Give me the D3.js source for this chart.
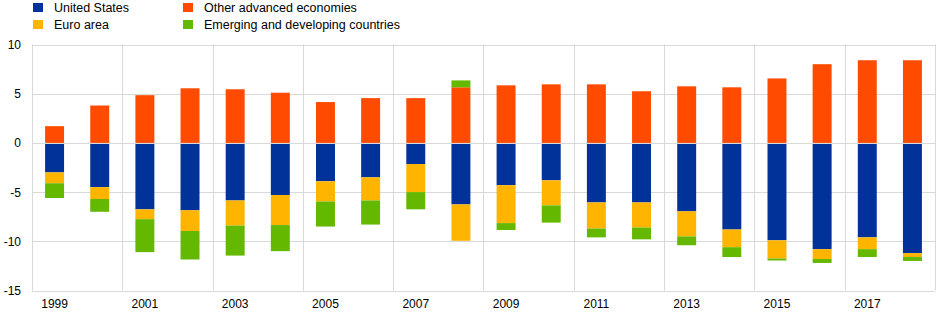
<!DOCTYPE html>
<html>
<head>
<meta charset="utf-8">
<script src="https://cdn.jsdelivr.net/npm/d3@7"></script>
<style>
  body { margin: 0; background: #fff; }
  text { font-family: "Liberation Sans", Arial, sans-serif; fill: #000; }
</style>
</head>
<body>
<svg id="chart" width="945" height="317"></svg>
<script>
const years = [1999, 2000, 2001, 2002, 2003, 2004, 2005, 2006, 2007, 2008,
               2009, 2010, 2011, 2012, 2013, 2014, 2015, 2016, 2017, 2018];
const unitedStates = [-3.0, -4.5, -6.75, -6.85, -5.85, -5.3, -3.9, -3.5, -2.15, -6.25,
                      -4.3, -3.8, -6.05, -6.05, -6.95, -8.8, -9.9, -10.8, -9.6, -11.2];
const euroArea = [-1.1, -1.2, -1.0, -2.1, -2.55, -3.05, -2.05, -2.35, -2.85, -3.7,
                  -3.85, -2.55, -2.65, -2.55, -2.55, -1.8, -1.85, -1.0, -1.2, -0.4];
const otherAdvanced = [1.7, 3.8, 4.85, 5.55, 5.45, 5.1, 4.15, 4.55, 4.55, 5.65,
                       5.85, 5.95, 5.95, 5.25, 5.75, 5.65, 6.55, 8.0, 8.4, 8.4];
const emerging = [-1.5, -1.3, -3.35, -2.9, -3.05, -2.65, -2.55, -2.45, -1.75, 0.7,
                  -0.7, -1.75, -0.9, -1.2, -0.9, -1.0, -0.2, -0.4, -0.8, -0.4];
const yTicks = [-15, -10, -5, 0, 5, 10];

const seriesInfo = [
    { key: "us", name: "United States", color: "#003299", values: unitedStates },
    { key: "ea", name: "Euro area", color: "#FFB400", values: euroArea },
    { key: "oa", name: "Other advanced economies", color: "#FF4B00", values: otherAdvanced },
    { key: "em", name: "Emerging and developing countries", color: "#65B800", values: emerging },
];

const rows = years.map((yr, i) => {
    const r = { year: yr };
    seriesInfo.forEach(s => r[s.key] = s.values[i]);
    return r;
});

const svg = d3.select("#chart");
const plot = { left: 32, right: 935, top: 44.5, bottom: 290.5 };

const x = d3.scaleBand()
    .domain(years)
    .range([plot.left, plot.right])
    .paddingInner(0.58)
    .paddingOuter(0.29);
const step = x.step();

const y = d3.scaleLinear().domain([-15, 10]).range([plot.bottom, plot.top]);

const grid = svg.append("g").attr("stroke", "#d9d9d9").attr("stroke-width", 1);

// horizontal gridlines
grid.selectAll(".h").data(yTicks).enter().append("line")
    .attr("x1", plot.left).attr("x2", plot.right)
    .attr("y1", d => Math.round(y(d)) + 0.5).attr("y2", d => Math.round(y(d)) + 0.5);

// vertical gridlines every two years, plus right side of the box
const vLines = years.filter((d, i) => i % 2 === 0).map(d => x(d) - step * x.paddingInner() / 2);
vLines.push(plot.right);
grid.selectAll(".v").data(vLines).enter().append("line")
    .attr("x1", d => Math.round(d) + 0.5).attr("x2", d => Math.round(d) + 0.5)
    .attr("y1", plot.top).attr("y2", plot.bottom);

// stacked bars
const stack = d3.stack()
    .keys(seriesInfo.map(s => s.key))
    .offset(d3.stackOffsetDiverging);
const stacked = stack(rows);

svg.append("g").selectAll("g")
    .data(stacked)
    .enter()
    .append("g")
    .attr("fill", d => seriesInfo.find(s => s.key === d.key).color)
    .selectAll("rect")
    .data(d => d)
    .enter()
    .append("rect")
    .attr("x", d => x(d.data.year))
    .attr("width", x.bandwidth())
    .attr("y", d => y(d[1]))
    .attr("height", d => y(d[0]) - y(d[1]));

// zero line over bars
svg.append("line")
    .attr("x1", plot.left).attr("x2", plot.right)
    .attr("y1", Math.round(y(0)) + 0.5).attr("y2", Math.round(y(0)) + 0.5)
    .attr("stroke", "#d9d9d9");

// y labels
svg.append("g").selectAll("text").data(yTicks).enter().append("text")
    .attr("x", 21).attr("y", d => y(d) + 4.5)
    .attr("text-anchor", "end")
    .attr("font-size", 12)
    .text(d => d);

// x labels
svg.append("g").selectAll("text").data(years.filter((d, i) => i % 2 === 0)).enter().append("text")
    .attr("x", d => x(d) + x.bandwidth() / 2)
    .attr("y", 308)
    .attr("text-anchor", "middle")
    .attr("font-size", 12)
    .text(d => d);

// legend
const legendPos = [
    { x: 33, y: 3 }, { x: 33, y: 20 }, { x: 183, y: 3 }, { x: 183, y: 20 }
];
const legend = svg.append("g").selectAll("g").data(seriesInfo).enter().append("g")
    .attr("transform", (d, i) => `translate(${legendPos[i].x},${legendPos[i].y})`);
legend.append("rect").attr("width", 10).attr("height", 9).attr("fill", d => d.color);
legend.append("text").attr("x", 21).attr("y", 9).attr("font-size", 12.5).text(d => d.name);
</script>
</body>
</html>
